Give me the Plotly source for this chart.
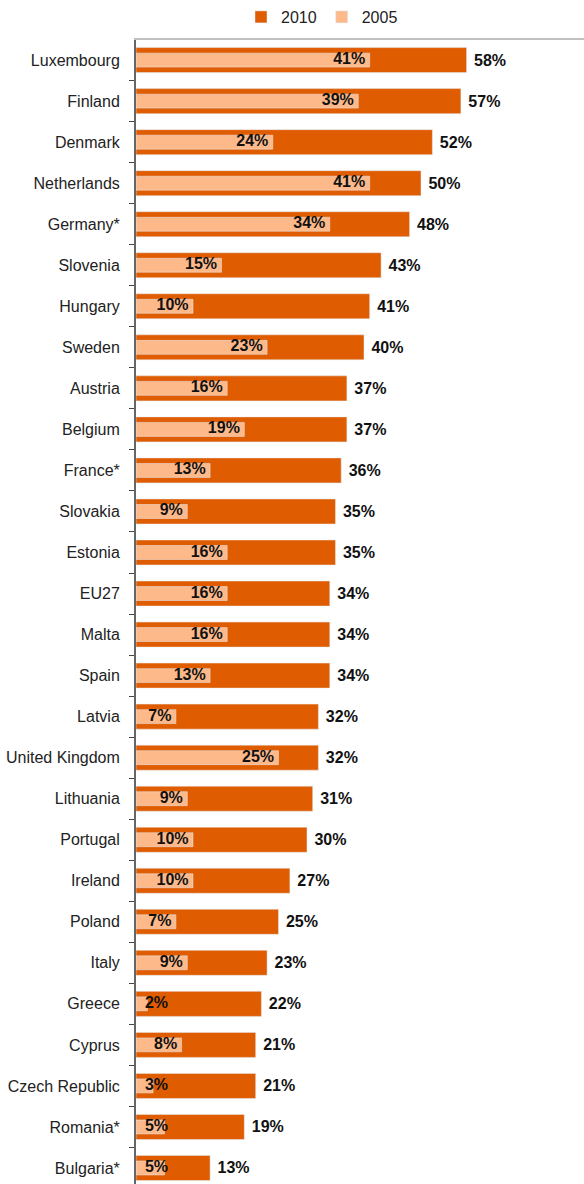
import plotly.graph_objects as go

countries = ["Luxembourg", "Finland", "Denmark", "Netherlands", "Germany*", "Slovenia",
             "Hungary", "Sweden", "Austria", "Belgium", "France*", "Slovakia", "Estonia",
             "EU27", "Malta", "Spain", "Latvia", "United Kingdom", "Lithuania", "Portugal",
             "Ireland", "Poland", "Italy", "Greece", "Cyprus", "Czech Republic",
             "Romania*", "Bulgaria*"]
v2010 = [58, 57, 52, 50, 48, 43, 41, 40, 37, 37, 36, 35, 35, 34, 34, 34, 32, 32, 31, 30,
         27, 25, 23, 22, 21, 21, 19, 13]
v2005 = [41, 39, 24, 41, 34, 15, 10, 23, 16, 19, 13, 9, 16, 16, 16, 13, 7, 25, 9, 10,
         10, 7, 9, 2, 8, 3, 5, 5]

C2010 = "#E05C00"
C2005 = "#FDB98A"
FONT = "Liberation Sans, Arial, sans-serif"

fig = go.Figure()
fig.add_trace(go.Bar(
    y=countries, x=v2010, orientation="h", name="2010", marker_color=C2010,
    width=0.61, text=["\u00a0%d%%" % v for v in v2010], textposition="outside",
    textfont=dict(family=FONT, size=16, color="#111111", weight="bold"),
    cliponaxis=False, hoverinfo="skip",
))
fig.add_trace(go.Bar(
    y=countries, x=v2005, orientation="h", name="2005", marker_color=C2005,
    width=0.34, hoverinfo="skip",
))
fig.add_trace(go.Scatter(
    y=countries, x=[max(v, 6.4) for v in v2005], mode="text",
    text=["%d%%\u00a0" % v for v in v2005], textposition="middle left",
    textfont=dict(family=FONT, size=16, color="#111111", weight="bold"),
    showlegend=False, cliponaxis=False, hoverinfo="skip",
))

fig.update_layout(
    width=584, height=1184,
    margin=dict(l=136, r=0, t=40, b=0, autoexpand=False),
    barmode="overlay",
    plot_bgcolor="white", paper_bgcolor="white",
    font=dict(family=FONT, size=16, color="#222222"),
    showlegend=True,
    legend=dict(orientation="h", xref="container", yref="container",
                x=322 / 584, xanchor="center", y=1 - 17 / 1184, yanchor="middle",
                font=dict(family=FONT, size=16, color="#222222"),
                itemwidth=30, traceorder="normal"),
    xaxis=dict(range=[0, 78.6], side="top", showline=True, linecolor="#c0c0c0",
               linewidth=1.5, showticklabels=False, ticks="", showgrid=False,
               zeroline=False, fixedrange=True, automargin=False),
    yaxis=dict(categoryorder="array", categoryarray=countries,
               range=[27.39, -0.49], showline=True, linecolor="#666666", linewidth=2,
               ticks="outside", tickson="boundaries", ticklen=5, tickcolor="#444444",
               ticklabelstandoff=11, showgrid=False, zeroline=False, automargin=False,
               tickfont=dict(family=FONT, size=16, color="#222222")),
)
fig.write_html("out.html", config={"displayModeBar": False},
               post_script="document.body.style.margin='0px';")
